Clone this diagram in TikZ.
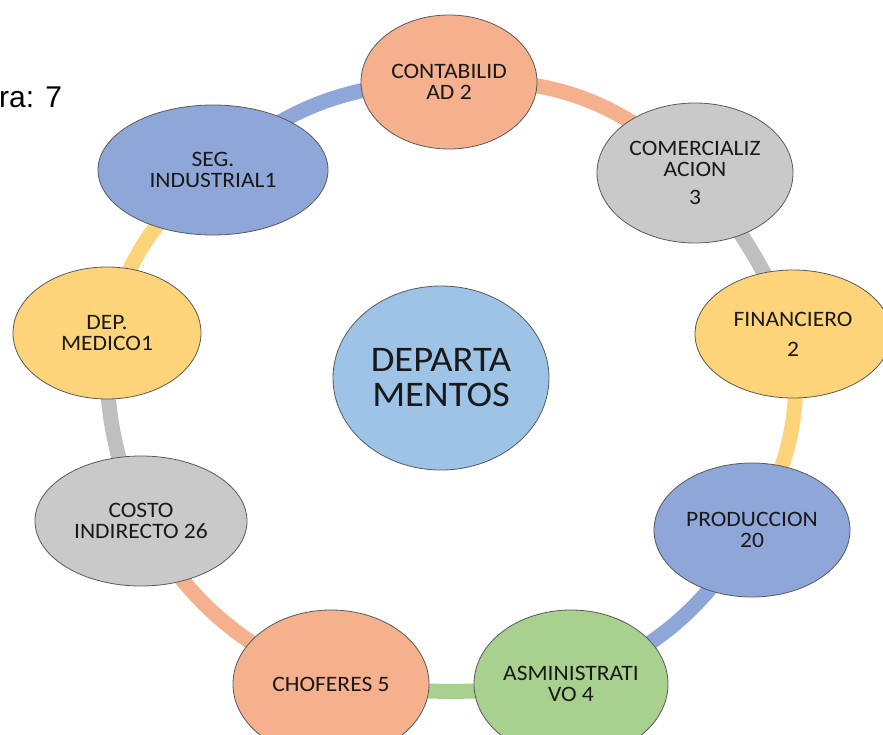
\documentclass[tikz,border=0pt]{standalone}
\usepackage{fontspec}
\setmainfont{Carlito}[FakeStretch=1.07]
\newfontfamily\capfont{Liberation Sans}
\usetikzlibrary{shapes.geometric, backgrounds}

\definecolor{salmon}{RGB}{245,176,142}
\definecolor{greyc}{RGB}{201,201,201}
\definecolor{yellowc}{RGB}{254,212,122}
\definecolor{bluec}{RGB}{143,166,216}
\definecolor{greenc}{RGB}{168,208,142}
\definecolor{skyc}{RGB}{157,195,230}

\begin{document}
\begin{tikzpicture}[x=1pt, y=1pt,
        dept/.style={ellipse, draw=black!65, line width=0.8pt, inner sep=0pt,
            align=center, text=black!90, font=\fontsize{22}{21}\selectfont},
        band/.style={line width=15pt}
    ]
    \useasboundingbox (0,0) rectangle (883,-734);

    \node[anchor=base west, inner sep=0pt, font=\capfont\fontsize{30}{30}\selectfont] (fig) at (-1,-107) {ra: 7};

    % departamentos, clockwise from the top
    \node[dept, fill=salmon, minimum width=176, minimum height=134] (conta) at (449,-82) {CONTABILID\\AD 2};
    \node[dept, fill=greyc, minimum width=196, minimum height=140] (comer) at (695,-173) {COMERCIALIZ\\ACION\\[7pt]3};
    \node[dept, fill=yellowc, minimum width=196, minimum height=128] (finan) at (793,-334) {FINANCIERO\\[9pt]2};
    \node[dept, fill=bluec, minimum width=196, minimum height=134] (produ) at (752,-530) {PRODUCCION\\20};
    \node[dept, fill=greenc, minimum width=194, minimum height=148] (admin) at (571,-684) {ASMINISTRATI\\VO 4};
    \node[dept, fill=salmon, minimum width=196, minimum height=148] (chofe) at (331,-684) {CHOFERES 5};
    \node[dept, fill=greyc, minimum width=212, minimum height=130] (costo) at (141,-521) {COSTO\\INDIRECTO 26};
    \node[dept, fill=yellowc, minimum width=188, minimum height=132] (medic) at (107,-333) {DEP.\\MEDICO1};
    \node[dept, fill=bluec, minimum width=230, minimum height=130] (segin) at (213,-170) {SEG.\\INDUSTRIAL1};

    \node[dept, fill=skyc, minimum width=216, minimum height=184, font=\fontsize{36}{35}\selectfont] (depto) at (441,-378) {DEPARTA\\MENTOS};

    % ring behind the nodes
    \begin{pgfonlayer}{background}
        \draw[band, draw=salmon] (conta.center) to[bend left=24] (comer.center);
        \draw[band, draw=greyc!95!black] (comer.center) to[bend left=8] (finan.center);
        \draw[band, draw=yellowc] (finan.center) to[bend left=18] (produ.center);
        \draw[band, draw=bluec] (produ.center) to[bend left=18] (admin.center);
        \draw[band, draw=greenc] (admin.center) to[bend left=6] (chofe.center);
        \draw[band, draw=salmon] (chofe.center) to[bend left=18] (costo.center);
        \draw[band, draw=greyc!95!black] (costo.center) to[bend left=12] (medic.center);
        \draw[band, draw=yellowc] (medic.center) to[bend left=18] (segin.center);
        \draw[band, draw=bluec] (segin.center) to[bend left=20] (conta.center);
    \end{pgfonlayer}
\end{tikzpicture}
\end{document}
